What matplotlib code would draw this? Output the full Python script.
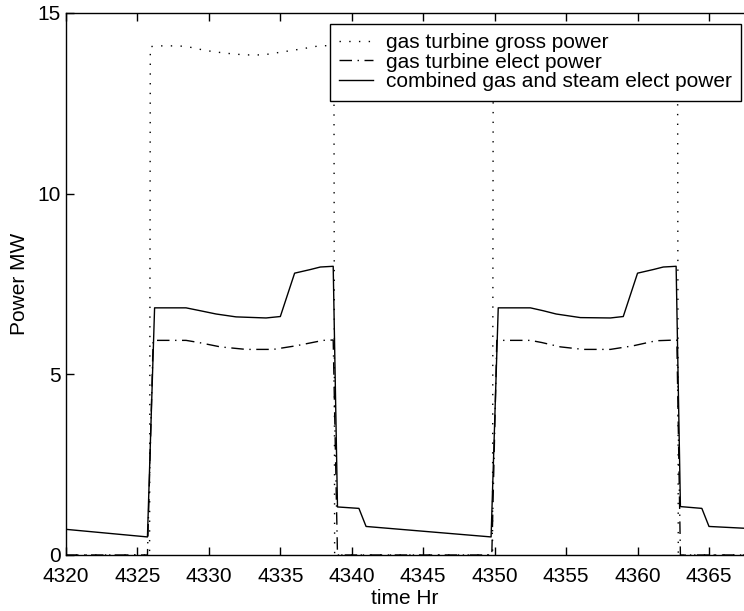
import matplotlib

matplotlib.use("Agg")

import matplotlib.pyplot as plt

plt.rcParams["font.family"] = ["Liberation Sans", "DejaVu Sans"]

# gas turbine gross power (dotted)
gross_time = [4320.0, 4325.85, 4325.9, 4326.6, 4327.9, 4328.6, 4329.8, 4331.1, 4332.5,
              4333.8, 4335.1, 4336.4, 4337.7, 4338.75, 4338.8, 4349.85, 4349.9, 4350.6,
              4351.9, 4352.6, 4353.8, 4355.1, 4356.5, 4357.8, 4359.1, 4360.4, 4361.7,
              4362.8, 4362.85, 4367.5]
gross_power = [0.0, 0.0, 14.07, 14.09, 14.09, 14.06, 13.96, 13.89, 13.84,
               13.84, 13.92, 14.00, 14.09, 14.10, 0.0, 0.0, 14.07, 14.09,
               14.09, 14.06, 13.96, 13.89, 13.84, 13.84, 13.92, 14.00, 14.09,
               14.10, 0.0, 0.0]

# gas turbine elect power (dash-dot)
elect_time = [4320.0, 4325.7, 4326.1, 4328.4, 4329.3, 4330.8, 4332.6, 4334.5, 4336.1,
              4338.0, 4338.7, 4339.0, 4349.8, 4350.15, 4352.5, 4353.3, 4354.6, 4356.2,
              4358.1, 4359.7, 4361.3, 4362.75, 4363.0, 4367.5]
elect_power = [0.0, 0.0, 5.94, 5.94, 5.88, 5.76, 5.69, 5.69, 5.79,
               5.94, 5.95, 0.0, 0.0, 5.94, 5.94, 5.88, 5.76, 5.69,
               5.69, 5.79, 5.93, 5.95, 0.0, 0.0]

# combined gas and steam elect power (solid)
combined_time = [4320.0, 4325.7, 4326.2, 4328.4, 4329.4, 4330.5, 4331.9, 4334.0, 4335.0,
                 4336.0, 4337.1, 4337.8, 4338.7, 4339.0, 4340.5, 4341.0, 4349.75, 4350.25,
                 4352.5, 4353.4, 4354.3, 4356.0, 4358.1, 4359.0, 4360.0, 4361.1, 4361.8,
                 4362.7, 4363.0, 4364.5, 4365.0, 4367.5]
combined_power = [0.71, 0.50, 6.84, 6.84, 6.76, 6.67, 6.59, 6.56, 6.60,
                  7.80, 7.90, 7.97, 7.99, 1.33, 1.29, 0.79, 0.50, 6.84,
                  6.84, 6.76, 6.67, 6.57, 6.56, 6.60, 7.80, 7.90, 7.97,
                  7.99, 1.34, 1.29, 0.79, 0.74]

x_ticks = [4320, 4325, 4330, 4335, 4340, 4345, 4350, 4355, 4360, 4365]
y_ticks = [0, 5, 10, 15]

font_size = 15

fig = plt.figure(figsize=(7.44, 6.11), dpi=100)
ax = fig.add_axes([66 / 744, 1 - 555 / 611, 1 - 66 / 744, (555 - 13) / 611])

ax.plot(gross_time, gross_power, color="black", linewidth=1.0,
        linestyle=(0, (1, 6)), label="gas turbine gross power")
ax.plot(elect_time, elect_power, color="black", linewidth=1.0,
        linestyle=(0, (9, 4, 1, 4)), label="gas turbine elect power")
ax.plot(combined_time, combined_power, color="black", linewidth=1.0,
        linestyle="-", label="combined gas and steam elect power")

ax.set_xlim(4320, 4367.45)
ax.set_ylim(0, 15)
ax.set_xticks(x_ticks)
ax.set_yticks(y_ticks)
ax.tick_params(direction="in", length=6, width=1, labelsize=font_size,
               top=True, right=False)
ax.tick_params(axis="x", pad=9)
ax.tick_params(axis="y", pad=4)
ax.spines["right"].set_visible(False)
for side in ("left", "top", "bottom"):
    ax.spines[side].set_linewidth(1.0)

ax.set_xlabel("time Hr", fontsize=font_size, labelpad=2)
ax.set_ylabel("Power MW", fontsize=font_size, labelpad=6)

leg = ax.legend(loc="upper right", bbox_to_anchor=(741 / 744, 1 - 24 / 611),
                bbox_transform=fig.transFigure, fontsize=font_size, frameon=True,
                fancybox=False, framealpha=1, edgecolor="black",
                handlelength=1.65, handletextpad=0.6, labelspacing=0.02,
                borderpad=0.45, borderaxespad=0)
leg.get_frame().set_linewidth(1.0)

fig.savefig("out.png", dpi=100)
plt.close(fig)
